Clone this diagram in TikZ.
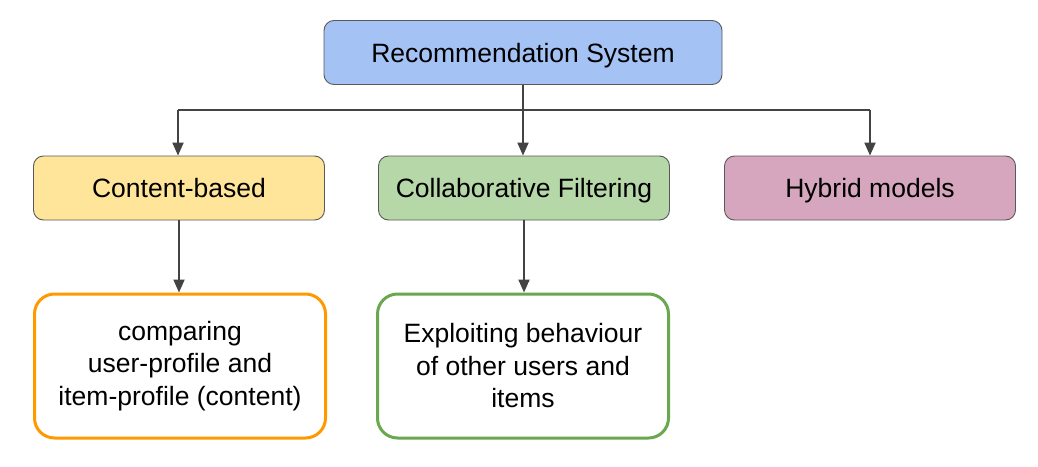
\documentclass[tikz,border=0pt]{standalone}
\usepackage{fontspec}
\setmainfont{Liberation Sans}
\usetikzlibrary{arrows.meta}
\definecolor{bluefill}{HTML}{A4C2F4}
\definecolor{yellowfill}{HTML}{FFE599}
\definecolor{greenfill}{HTML}{B6D7A8}
\definecolor{purplefill}{HTML}{D5A6BD}
\definecolor{boxborder}{HTML}{595959}
\definecolor{orangeborder}{HTML}{FF9900}
\definecolor{greenborder}{HTML}{6AA84F}
\definecolor{connector}{HTML}{434343}
\begin{document}
\begin{tikzpicture}[x=1pt,y=-1pt,
  catbox/.style={draw=boxborder, line width=0.9pt, rounded corners=10pt, minimum width=291pt, minimum height=64pt, inner sep=0pt, text height=19pt, text depth=0pt, font=\fontsize{26.5}{32}\selectfont},
  descbox/.style={line width=3pt, rounded corners=20pt, minimum width=291pt, minimum height=144pt, inner sep=0pt, align=center, font=\fontsize{26.5}{32.5}\selectfont},
  conn/.style={draw=connector, line width=2pt, -{Triangle[length=13pt,width=11pt]}},
  line/.style={draw=connector, line width=2pt}]
\useasboundingbox (0,0) rectangle (1038,466);
\fill[white] (0,0) rectangle (1038,466);
\node[catbox, fill=bluefill, minimum width=398pt] (root) at (523,52.5) {Recommendation System};
\node[catbox, fill=yellowfill] (cb) at (179,188) {Content-based};
\node[catbox, fill=greenfill] (cf) at (524,188) {Collaborative Filtering};
\node[catbox, fill=purplefill] (hy) at (870,188) {Hybrid models};
\node[descbox, draw=orangeborder] (cbd) at (180,366) {comparing\\user-profile and\\item-profile (content)};
\node[descbox, draw=greenborder] (cfd) at (523,366) {Exploiting behaviour\\of other users and\\items};
\coordinate (jl) at (178,110);
\coordinate (jm) at (523,110);
\coordinate (jr) at (870,110);
\draw[line] (root.south) -- (jm);
\draw[line] (jl) -- (jr);
\draw[conn] (jl) -- (cb.north -| jl);
\draw[conn] (jm) -- (cf.north -| jm);
\draw[conn] (jr) -- (hy.north);
\draw[conn] (cb.south) -- (cbd.north -| cb.south);
\draw[conn] (cf.south) -- (cfd.north -| cf.south);
\end{tikzpicture}
\end{document}
